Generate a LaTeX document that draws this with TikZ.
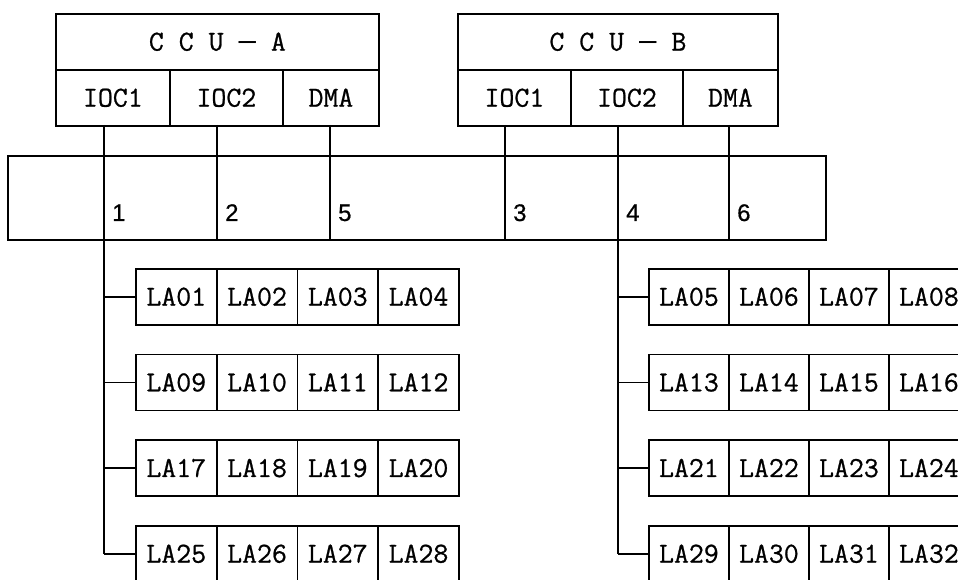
\documentclass[tikz,border=0pt]{standalone}
\usepackage{fontspec}
\newfontfamily\typew[FakeBold=0.8]{Latin Modern Mono}
\newfontfamily\dashfont{DejaVu Sans Mono}
\newfontfamily\numfont[FakeBold=0.6]{Liberation Sans}
\newcommand\twod[1]{\ifnum#1<10 0\fi#1}
\begin{document}
\begin{tikzpicture}[x=1pt,y=-1pt,
  box/.style={draw, line width=1.8pt, inner sep=0pt, anchor=north west,
    font=\typew\fontsize{29}{30}\selectfont, text height=17.5pt, text depth=0pt,
    minimum height=56pt},
  wire/.style={line width=1.8pt},
  num/.style={anchor=base west, inner sep=0pt, font=\fontsize{24}{26}\selectfont\numfont}]
\useasboundingbox (0,0) rectangle (958,580);
\clip (0,0) rectangle (958,580);
% CCU-A
\node[box, minimum width=323pt] (ccua) at (55,13) {C C U {\dashfont —} A};
\node[box, minimum width=114pt] (ioc1a) at (55,69) {IOC1};
\node[box, minimum width=113pt] (ioc2a) at (169,69) {IOC2};
\node[box, minimum width=96pt] (dmaa) at (282,69) {DMA};
% CCU-B
\node[box, minimum width=320pt] (ccub) at (457,13) {C C U {\dashfont —} B};
\node[box, minimum width=113pt] (ioc1b) at (457,69) {IOC1};
\node[box, minimum width=112pt] (ioc2b) at (570,69) {IOC2};
\node[box, minimum width=95pt] (dmab) at (682,69) {DMA};
% bus
\node[box, minimum width=818pt, minimum height=84pt] (bus) at (7,155) {};
% connector tops
\coordinate (ta1) at (104,125);
\coordinate (ta2) at (217,125);
\coordinate (ta3) at (330,125);
\coordinate (tb1) at (505,125);
\coordinate (tb2) at (618,125);
\coordinate (tb3) at (729,125);
% numbers
\node[num] (n1) at (112,221) {1};
\node[num] (n2) at (225,221) {2};
\node[num] (n5) at (338,221) {5};
\node[num] (n3) at (513,221) {3};
\node[num] (n4) at (626,221) {4};
\node[num] (n6) at (737,221) {6};
% LA cells
\foreach \r in {0,...,3}{
  \foreach \c in {0,...,3}{
    \pgfmathtruncatemacro\na{8*\r+\c+1}
    \pgfmathtruncatemacro\nb{8*\r+\c+5}
    \node[box, minimum width=80.75pt] (la\na) at ({135+80.75*\c},{268+85.67*\r}) {LA\twod{\na}};
    \node[box, minimum width=80pt] (la\nb) at ({648+80*\c},{268+85.67*\r}) {LA\twod{\nb}};
  }
}
% connectors
\foreach \t in {ta2,ta3,tb1,tb3}{
  \draw[wire] (\t) -- (\t |- bus.south);
}
\draw[wire] (ta1) -- (ta1 |- la25.west);
\draw[wire] (tb2) -- (tb2 |- la29.west);
\foreach \n in {1,9,17,25}{
  \draw[wire] (ta1 |- la\n.west) -- (la\n.west);
}
\foreach \n in {5,13,21,29}{
  \draw[wire] (tb2 |- la\n.west) -- (la\n.west);
}
\end{tikzpicture}
\end{document}
